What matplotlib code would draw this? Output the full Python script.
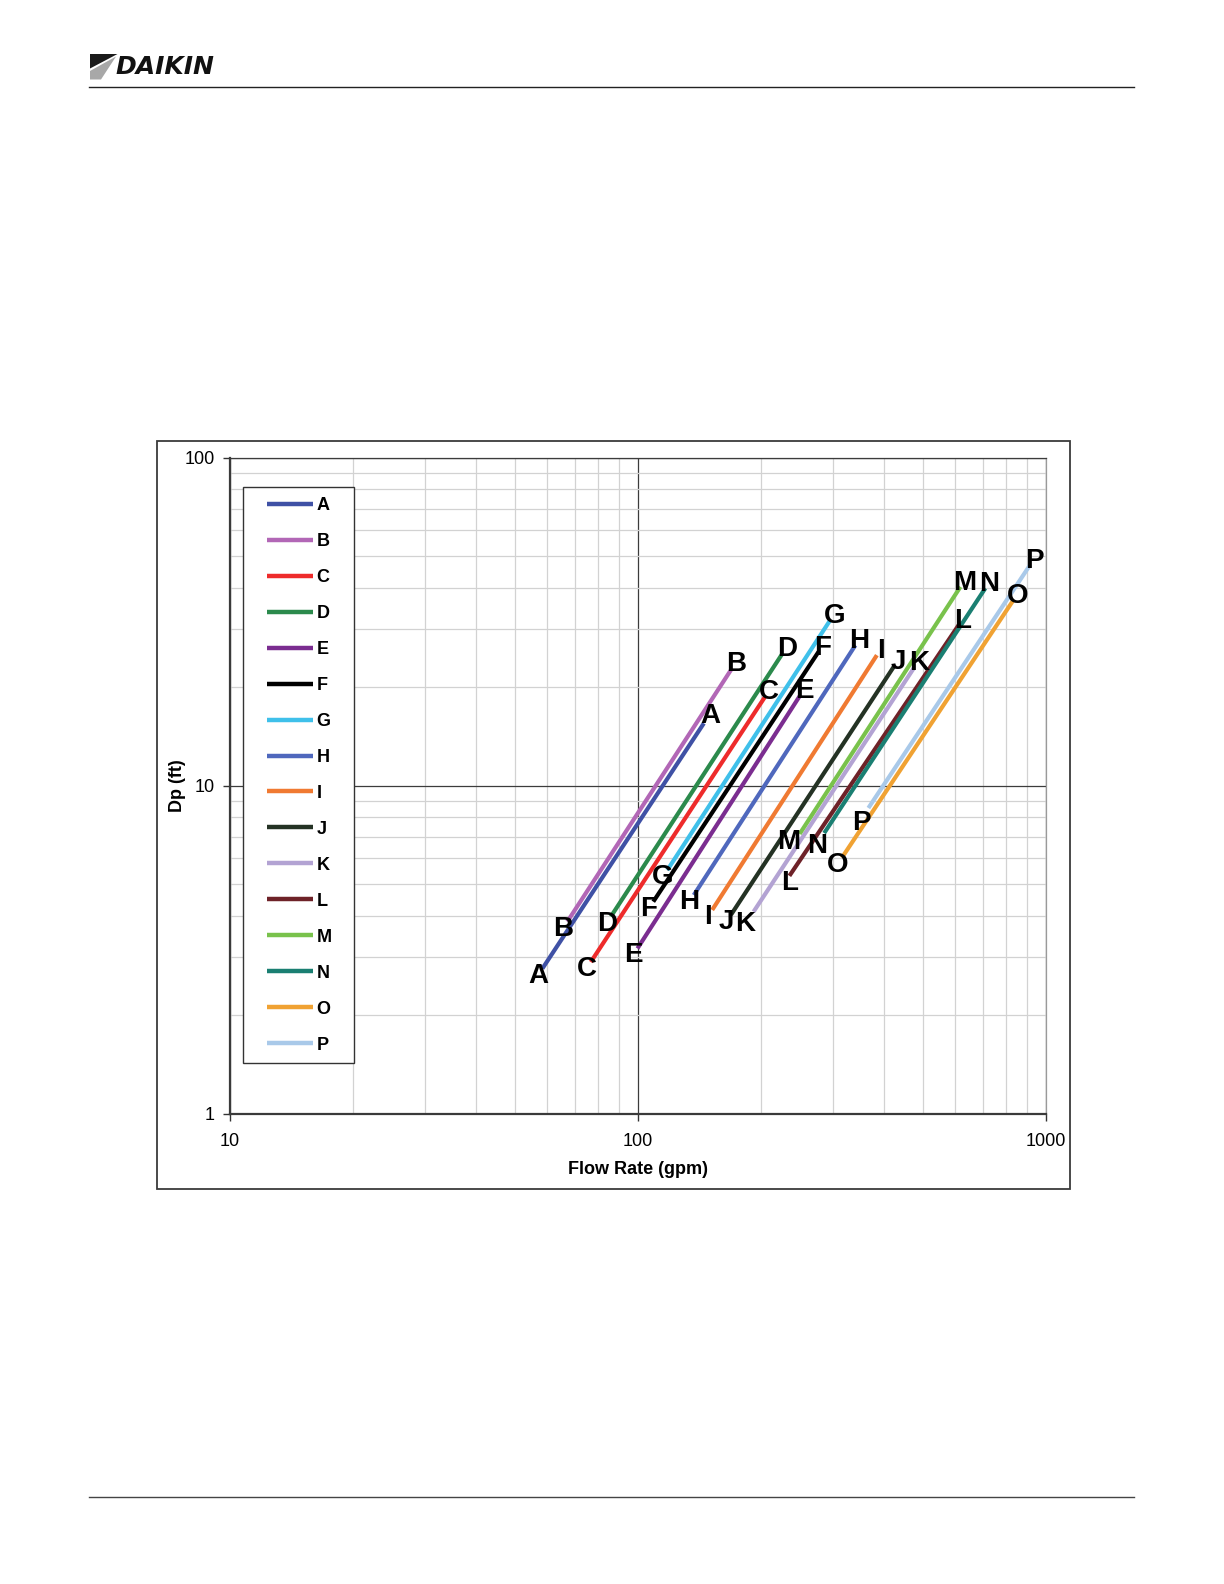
import matplotlib

matplotlib.use("Agg")
import matplotlib.pyplot as plt
import numpy as np
from matplotlib.legend_handler import HandlerLine2D
from matplotlib.lines import Line2D
from matplotlib.patches import Polygon, Rectangle
from matplotlib.ticker import NullFormatter

plt.rcParams["font.family"] = ["Liberation Sans", "DejaVu Sans"]

W, H = 1224, 1584

# one straight run per unit (gpm, ft)
series = list("ABCDEFGHIJKLMNOP")
flow_min = [58.3, 67.1, 76.6, 85.8, 99.7, 109, 118, 137, 152, 169, 192, 235, 249, 286, 316, 367]
flow_max = [145, 170, 205, 226, 250, 277, 296, 341, 385, 424, 474, 611, 617, 710, 832, 914]
dp_min = [2.77, 3.85, 2.90, 3.99, 3.19, 4.43, 5.53, 4.64, 4.18, 4.04, 4.13, 5.31, 7.13, 7.17, 6.03, 8.55]
dp_max = [15.5, 22.8, 18.7, 25.3, 18.9, 25.6, 32.0, 26.8, 25.0, 23.1, 22.8, 30.9, 40.4, 40.0, 36.8, 47.1]

colors = [
    "#3f51a5", "#b267b6", "#ee2b2b", "#2b8a4c", "#7b2d90", "#000000",
    "#3fc0ea", "#4f68bd", "#f07a32", "#243224", "#b3a3d3", "#6e2228",
    "#79c24c", "#1a7f72", "#f0a233", "#a9c9e9",
]

x_ticks = [10, 100, 1000]
y_ticks = [1, 10, 100]

# where the letter sits next to the low / high end of its line (points)
low_offset = {"M": (-8, -6), "N": (-5, -9), "P": (-5, -11), "K": (-6, -9), "L": (0, -5)}
high_offset = {"A": (5, 5), "K": (4, 4)}


def fxy(x, y):
    """pixel position on the page -> figure fraction"""
    return x / W, 1 - y / H


class ShortLine(HandlerLine2D):
    # Excel legend keeps a gap left of the swatch
    def __init__(self, gap, **kw):
        super().__init__(**kw)
        self.gap = gap

    def get_xdata(self, legend, xdescent, ydescent, width, height, fontsize):
        xdata, xdata_marker = super().get_xdata(
            legend, xdescent, ydescent, width, height, fontsize
        )
        xdata = np.array(xdata, dtype=float)
        xdata[0] += self.gap * fontsize
        return xdata, xdata_marker


fig = plt.figure(figsize=(W / 100, H / 100), dpi=100)

# page header / footer
fig.add_artist(Line2D(*zip(fxy(89, 86.5), fxy(1134, 86.5)), transform=fig.transFigure,
                      color="#222222", lw=1.0))
fig.add_artist(Line2D(*zip(fxy(89, 1497), fxy(1134, 1497)), transform=fig.transFigure,
                      color="#444444", lw=1.0))
fig.add_artist(Polygon([fxy(90, 54), fxy(117.5, 54), fxy(90, 68.5)],
                       transform=fig.transFigure, color="#1a1a1a", lw=0))
fig.add_artist(Polygon([fxy(90, 71), fxy(116, 56.5), fxy(101, 79.5), fxy(90, 79.5)],
                       transform=fig.transFigure, color="#a8a8a8", lw=0))
fig.text(*fxy(115, 67), "DAIKIN", fontsize=18, fontweight="heavy", style="italic",
         family="DejaVu Sans", ha="left", va="center", color="#111111")

# frame round the chart
x0, y0 = fxy(156.5, 1189)
x1, y1 = fxy(1069.5, 441)
fig.add_artist(Rectangle((x0, y0), x1 - x0, y1 - y0, transform=fig.transFigure,
                         fill=False, edgecolor="#3a3a3a", lw=1.3))

ax = fig.add_axes([230 / W, 1 - 1113.7 / H, 816 / W, 656 / H])

for name, fa, fb, da, db, c in zip(series, flow_min, flow_max, dp_min, dp_max, colors):
    ax.plot([fa, fb], [da, db], color=c, lw=3, solid_capstyle="butt", label=name, zorder=3)
    ax.annotate(name, (fa, da), xytext=low_offset.get(name, (-3, -5)), textcoords="offset points",
                ha="center", va="center", fontsize=20, fontweight="bold", zorder=4)
    ax.annotate(name, (fb, db), xytext=high_offset.get(name, (3, 3)), textcoords="offset points",
                ha="center", va="center", fontsize=20, fontweight="bold", zorder=4)

ax.set_xscale("log")
ax.set_yscale("log")
ax.set_xlim(10, 1000)
ax.set_ylim(1, 100)
ax.set_xticks(x_ticks)
ax.set_xticklabels([str(v) for v in x_ticks])
ax.set_yticks(y_ticks)
ax.set_yticklabels([str(v) for v in y_ticks])
ax.xaxis.set_minor_formatter(NullFormatter())
ax.yaxis.set_minor_formatter(NullFormatter())
ax.tick_params(which="minor", length=0)
ax.tick_params(which="major", length=5, width=1, color="#333333", labelsize=13, pad=6)
ax.tick_params(axis="x", which="major", pad=9)

ax.set_axisbelow(True)
ax.grid(which="minor", color="#d2d2d2", lw=0.9)
ax.grid(which="major", color="#3c3c3c", lw=0.9)

for side in ["left", "bottom"]:
    ax.spines[side].set_color("#3a3a3a")
    ax.spines[side].set_linewidth(1.6)
ax.spines["top"].set_color("#3c3c3c")
ax.spines["top"].set_linewidth(0.9)
ax.spines["right"].set_color("#9a9a9a")
ax.spines["right"].set_linewidth(0.9)

ax.set_xlabel("Flow Rate (gpm)", fontsize=13, fontweight="bold", labelpad=8)
ax.set_ylabel("Dp (ft)", fontsize=13, fontweight="bold", labelpad=-1)

leg = ax.legend(
    loc="upper left",
    bbox_to_anchor=(0.016, 0.07, 0.136, 0.885),
    mode="expand",
    borderaxespad=0,
    borderpad=0.55,
    handlelength=3.3,
    handletextpad=0.22,
    labelspacing=1.05,
    fancybox=False,
    framealpha=1,
    edgecolor="#333333",
    prop={"size": 13, "weight": "bold"},
    handler_map={Line2D: ShortLine(gap=0.75)},
)
leg.get_frame().set_linewidth(1.0)
for line in leg.get_lines():
    line.set_linewidth(3.2)

fig.savefig("out.png", dpi=100)
